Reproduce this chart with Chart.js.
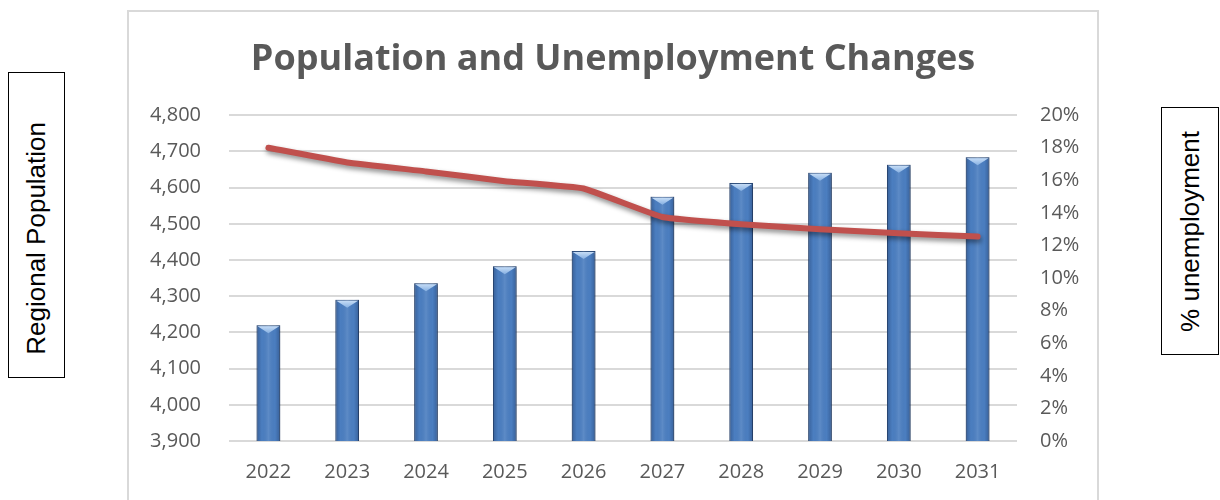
<!DOCTYPE html>
<html>
<head>
<meta charset="utf-8">
<script src="https://cdn.jsdelivr.net/npm/chart.js"></script>
<style>
  body { margin: 0; width: 1220px; height: 500px; overflow: hidden; background: #fff; position: relative; }
  .side { position: absolute; border: 1.5px solid #000; box-sizing: border-box;
          display: flex; align-items: center; justify-content: center; }
  .side span { writing-mode: vertical-rl; transform: rotate(180deg); white-space: nowrap;
               font-family: "Liberation Sans", Arial, sans-serif; font-size: 26px; color: #000; }
  #frame { position: absolute; left: 127px; top: 10px; width: 972px; height: 500px;
           border: 2px solid #d9d9d9; box-sizing: border-box; }
  #wrap { position: relative; width: 968px; height: 496px; }
</style>
</head>
<body>
<div class="side" style="left:8px; top:72px; width:57px; height:306px; padding-top:26px;"><span>Regional Population</span></div>
<div class="side" style="left:1161px; top:107px; width:58px; height:248px;"><span>% unemployment</span></div>
<div id="frame"><div id="wrap"><canvas id="chart"></canvas></div></div>

<script>
const years = ['2022', '2023', '2024', '2025', '2026', '2027', '2028', '2029', '2030', '2031'];
const population = [4220, 4290, 4336, 4383, 4425, 4575, 4613, 4641, 4663, 4684];
const unemployment = [18.0, 17.1, 16.55, 15.95, 15.5, 13.75, 13.3, 13.0, 12.75, 12.55];

const grey = '#595959';

// shadows for bars and the line, bevel + shading on bars
const effects = {
  id: 'effects',
  beforeDatasetDraw(chart, args) {
    const ctx = chart.ctx;
    ctx.save();
    if (args.index === 1) {
      ctx.shadowColor = 'rgba(0,0,0,0.45)';
      ctx.shadowBlur = 5;
      ctx.shadowOffsetX = 1;
      ctx.shadowOffsetY = 3;
    } else {
      ctx.shadowColor = 'rgba(0,0,0,0.35)';
      ctx.shadowBlur = 5;
      ctx.shadowOffsetX = 1;
      ctx.shadowOffsetY = 1;
    }
  },
  afterDatasetDraw(chart, args) {
    const ctx = chart.ctx;
    ctx.restore();
    if (args.index !== 0) return;
    const bottom = chart.chartArea.bottom;
    const meta = chart.getDatasetMeta(0);
    meta.data.forEach(bar => {
      const { x, y, width, base } = bar.getProps(['x', 'y', 'width', 'base'], true);
      const l = x - width / 2, r = x + width / 2;
      const b = Math.min(base, bottom);
      const g = ctx.createLinearGradient(l, 0, r, 0);
      g.addColorStop(0, 'rgba(20,40,80,0.35)');
      g.addColorStop(0.22, 'rgba(20,40,80,0.0)');
      g.addColorStop(0.5, 'rgba(255,255,255,0.10)');
      g.addColorStop(0.78, 'rgba(20,40,80,0.0)');
      g.addColorStop(1, 'rgba(20,40,80,0.35)');
      ctx.fillStyle = g;
      ctx.fillRect(l, y, width, b - y);
      // top bevel
      const bv = ctx.createLinearGradient(0, y, 0, y + 8);
      bv.addColorStop(0, '#cfe3f9');
      bv.addColorStop(1, '#86b0e2');
      ctx.fillStyle = bv;
      ctx.beginPath();
      ctx.moveTo(l + 1, y + 1);
      ctx.lineTo(r - 1, y + 1);
      ctx.lineTo(x, y + 8);
      ctx.closePath();
      ctx.fill();
    });
  }
};

const tickFont = { family: '"Open Sans", sans-serif', size: 20 };

new Chart(document.getElementById('chart'), {
  data: {
    labels: years,
    datasets: [
      {
        type: 'bar',
        label: 'Regional Population',
        data: population,
        yAxisID: 'y',
        backgroundColor: '#4b7ec0',
        borderColor: '#36598a',
        borderWidth: 1,
        barPercentage: 0.3,
        categoryPercentage: 1,
        order: 2
      },
      {
        type: 'line',
        label: '% unemployment',
        data: unemployment,
        yAxisID: 'y1',
        borderColor: '#c0504d',
        borderWidth: 6,
        borderCapStyle: 'round',
        borderJoinStyle: 'round',
        pointRadius: 0,
        tension: 0.1,
        order: 1
      }
    ]
  },
  options: {
    responsive: true,
    maintainAspectRatio: false,
    animation: false,
    layout: { padding: 0 },
    plugins: {
      legend: { display: false },
      tooltip: { enabled: false },
      title: {
        display: true,
        text: 'Population and Unemployment Changes',
        color: grey,
        font: { family: '"Open Sans", sans-serif', size: 36, weight: 'bold', lineHeight: 1.2 },
        padding: { top: 26, bottom: 34 }
      }
    },
    scales: {
      x: {
        grid: { display: false, drawTicks: false },
        border: { display: false },
        ticks: { color: grey, font: tickFont, padding: 19 },
        afterFit(s) { s.height = 67; }
      },
      y: {
        position: 'left',
        min: 3900,
        max: 4800,
        grid: { color: '#d9d9d9', lineWidth: 2, drawTicks: false },
        border: { display: false },
        ticks: {
          stepSize: 100,
          color: grey,
          font: tickFont,
          padding: 28,
          callback: v => v.toLocaleString('en-US')
        },
        afterFit(s) { s.width = 100; }
      },
      y1: {
        position: 'right',
        min: 0,
        max: 20,
        grid: { display: false, drawTicks: false },
        border: { display: false },
        ticks: {
          stepSize: 2,
          color: grey,
          font: tickFont,
          padding: 23,
          callback: v => v + '%'
        },
        afterFit(s) { s.width = 80; }
      }
    }
  },
  plugins: [effects]
});
</script>
</body>
</html>
